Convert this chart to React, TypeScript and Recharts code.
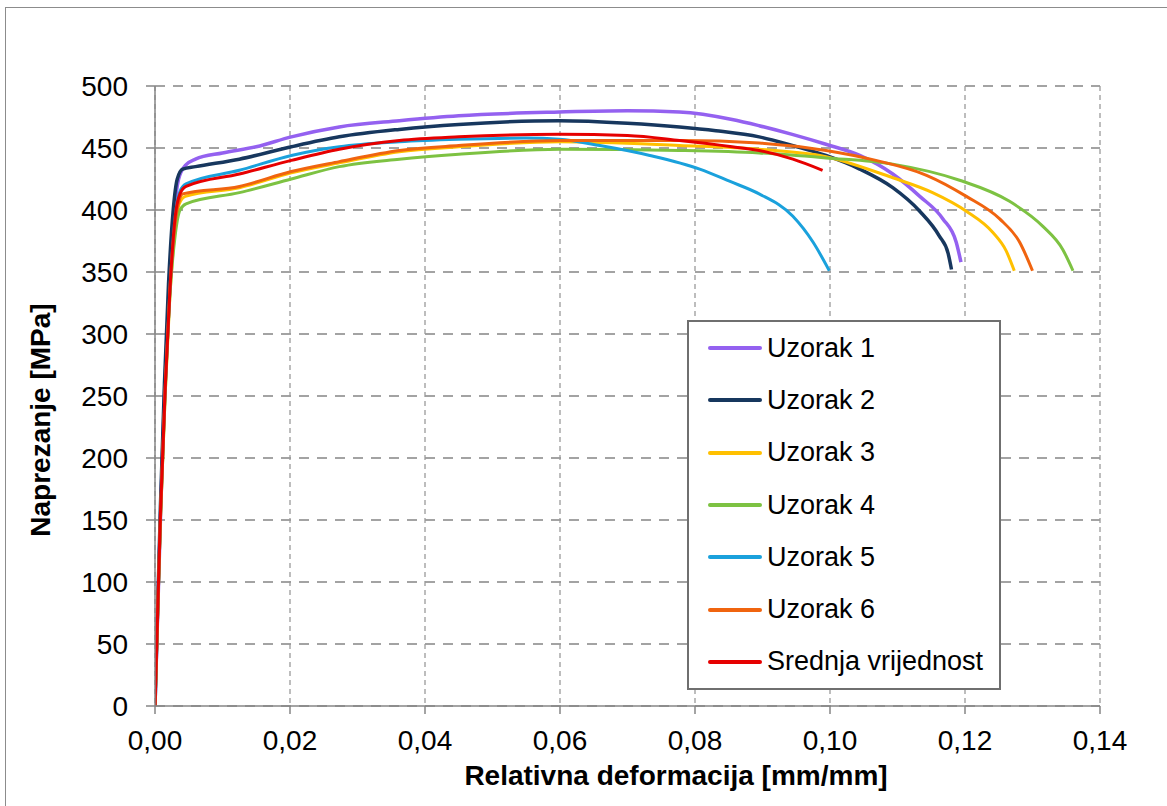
import { LineChart, Line, XAxis, YAxis, CartesianGrid, Legend } from "recharts";

const FONT = "'Liberation Sans', Arial, sans-serif";

// strain [mm/mm], stress [MPa]
const uzorak1 = [
  [0, 0], [0.0008, 150], [0.0014, 250], [0.0021, 330], [0.0028, 395], [0.0035, 425],
  [0.0045, 436], [0.006, 441], [0.01, 446], [0.015, 451], [0.0202, 459], [0.0273, 467],
  [0.0362, 472], [0.045, 476], [0.0599, 479], [0.07, 480], [0.0777, 479], [0.0855, 473],
  [0.0895, 468], [0.0944, 461], [0.0994, 453], [0.1044, 444], [0.1093, 429], [0.1133, 411],
  [0.1167, 393], [0.1187, 374], [0.1194, 358],
];
const uzorak2 = [
  [0, 0], [0.0008, 160], [0.0014, 260], [0.002, 340], [0.0027, 400], [0.0033, 425],
  [0.0041, 433], [0.006, 435], [0.0125, 441], [0.0202, 451], [0.0273, 459], [0.0362, 465],
  [0.045, 469], [0.0599, 472], [0.07, 470], [0.0777, 467], [0.0831, 464], [0.0895, 459],
  [0.0944, 452], [0.0994, 444], [0.1044, 433], [0.1093, 418], [0.1133, 399], [0.1162, 379],
  [0.1175, 365], [0.118, 352],
];
const uzorak3 = [
  [0, 0], [0.0008, 150], [0.0015, 250], [0.0022, 330], [0.003, 385], [0.0036, 405],
  [0.0045, 411], [0.0125, 418], [0.0202, 430], [0.0273, 438], [0.0362, 447], [0.045, 451],
  [0.06, 455], [0.0777, 452], [0.0895, 449], [0.0994, 443], [0.1093, 426], [0.1152, 414],
  [0.1202, 399], [0.1241, 382], [0.1261, 367], [0.1273, 351],
];
const uzorak4 = [
  [0, 0], [0.0008, 150], [0.0015, 250], [0.0022, 330], [0.003, 380], [0.0037, 400],
  [0.0046, 405], [0.0125, 414], [0.0202, 425], [0.0273, 435], [0.0362, 441], [0.045, 445],
  [0.06, 449], [0.0777, 448], [0.0895, 446], [0.0994, 442], [0.1093, 437], [0.1192, 424],
  [0.1266, 407], [0.1315, 387], [0.1345, 368], [0.136, 351],
];
const uzorak5 = [
  [0, 0], [0.0008, 155], [0.0015, 255], [0.0022, 335], [0.003, 395], [0.0037, 415],
  [0.0046, 421], [0.0125, 432], [0.0202, 444], [0.0273, 451], [0.0362, 455], [0.045, 457],
  [0.055, 458], [0.0599, 457], [0.0659, 452], [0.0733, 444], [0.0807, 433], [0.0852, 423],
  [0.0895, 413], [0.0945, 395], [0.0975, 374], [0.0999, 351],
];
const uzorak6 = [
  [0, 0], [0.0008, 150], [0.0015, 255], [0.0022, 335], [0.003, 390], [0.0036, 408],
  [0.0041, 413], [0.0125, 419], [0.0202, 431], [0.0273, 439], [0.0362, 448], [0.045, 452],
  [0.06, 456], [0.0777, 456], [0.0895, 454], [0.0994, 448], [0.1068, 440], [0.1143, 428],
  [0.1202, 411], [0.1251, 393], [0.1281, 374], [0.13, 351],
];
const srednja = [
  [0, 0], [0.0008, 155], [0.0015, 255], [0.0022, 335], [0.003, 395], [0.0037, 413],
  [0.0046, 419], [0.0125, 429], [0.0202, 440], [0.0273, 449], [0.0362, 456], [0.045, 459],
  [0.06, 461], [0.07, 460], [0.0777, 456], [0.0855, 451], [0.0895, 448], [0.0945, 441],
  [0.0989, 432],
];

const xTicks = [0, 0.02, 0.04, 0.06, 0.08, 0.1, 0.12, 0.14];
const yTicks = [0, 50, 100, 150, 200, 250, 300, 350, 400, 450, 500];

const series = [
  { name: "Uzorak 1", color: "#9461f0", width: 3.5, points: uzorak1 },
  { name: "Uzorak 2", color: "#17375e", width: 3.5, points: uzorak2 },
  { name: "Uzorak 3", color: "#ffc000", width: 3, points: uzorak3 },
  { name: "Uzorak 4", color: "#7dc242", width: 3, points: uzorak4 },
  { name: "Uzorak 5", color: "#1aa1dc", width: 3, points: uzorak5 },
  { name: "Uzorak 6", color: "#f0640f", width: 3, points: uzorak6 },
  { name: "Srednja vrijednost", color: "#e60000", width: 3, points: srednja },
];

const toRows = (pts: number[][]) => pts.map(([x, y]) => ({ x, y }));

const LegendBox = () => (
  <div
    style={{
      boxSizing: "border-box",
      width: 314,
      height: 370,
      border: "2px solid #6f6f6f",
      background: "#fff",
      fontFamily: FONT,
      fontSize: 27,
      color: "#000",
    }}
  >
    {series.map((s) => (
      <div key={s.name} style={{ height: 52.3, display: "flex", alignItems: "center" }}>
        <div style={{ marginLeft: 19, width: 54, height: 4, background: s.color, borderRadius: 2 }} />
        <span style={{ marginLeft: 5, lineHeight: 1 }}>{s.name}</span>
      </div>
    ))}
  </div>
);

const YTitle = () => (
  <text
    x={50}
    y={420}
    transform="rotate(-90, 50, 420)"
    textAnchor="middle"
    fontFamily={FONT}
    fontSize={28}
    fontWeight="bold"
    fill="#000"
  >
    Naprezanje [MPa]
  </text>
);

const XTitle = () => (
  <text x={676} y={785} textAnchor="middle" fontFamily={FONT} fontSize={28} fontWeight="bold" fill="#000">
    Relativna deformacija [mm/mm]
  </text>
);

export default function App() {
  return (
    <div style={{ position: "absolute", left: 0, top: 0, width: 1167, height: 806, overflow: "hidden", background: "#fff" }}>
      <div
        style={{
          position: "absolute",
          left: 5,
          top: 7,
          width: 1170,
          height: 810,
          borderTop: "1.5px solid #8c8c8c",
          borderLeft: "1.5px solid #8c8c8c",
        }}
      />
      <div style={{ position: "absolute", left: 0, top: 0 }}>
        <LineChart width={1167} height={806} margin={{ top: 86, right: 67, left: 0, bottom: 0 }}>
          <CartesianGrid vertical={false} stroke="#a3a3a3" strokeWidth={2} strokeDasharray="10 8" />
          <CartesianGrid horizontal={false} stroke="#9a9a9a" strokeWidth={1.3} strokeDasharray="5 4" />
          <XAxis
            type="number"
            dataKey="x"
            domain={[0, 0.14]}
            ticks={xTicks}
            allowDataOverflow
            height={100}
            stroke="#868686"
            strokeWidth={1.5}
            tickSize={8}
            tickMargin={16}
            tick={{ fill: "#000", fontSize: 28, fontFamily: FONT }}
            tickFormatter={(v: number) => v.toFixed(2).replace(".", ",")}
            label={{ content: () => <XTitle /> }}
          />
          <YAxis
            type="number"
            domain={[0, 500]}
            ticks={yTicks}
            allowDataOverflow
            width={155}
            stroke="#868686"
            strokeWidth={1.5}
            tickSize={9}
            tickMargin={18}
            tick={{ fill: "#000", fontSize: 28, fontFamily: FONT }}
            label={{ content: () => <YTitle /> }}
          />
          {series.map((s) => (
            <Line
              key={s.name}
              data={toRows(s.points)}
              dataKey="y"
              name={s.name}
              type="monotone"
              stroke={s.color}
              strokeWidth={s.width}
              dot={false}
              activeDot={false}
              isAnimationActive={false}
            />
          ))}
          <Legend
            layout="vertical"
            align="center"
            verticalAlign="middle"
            content={() => <LegendBox />}
            wrapperStyle={{ left: 687, top: 320, width: 314, height: 370 }}
          />
        </LineChart>
      </div>
    </div>
  );
}
